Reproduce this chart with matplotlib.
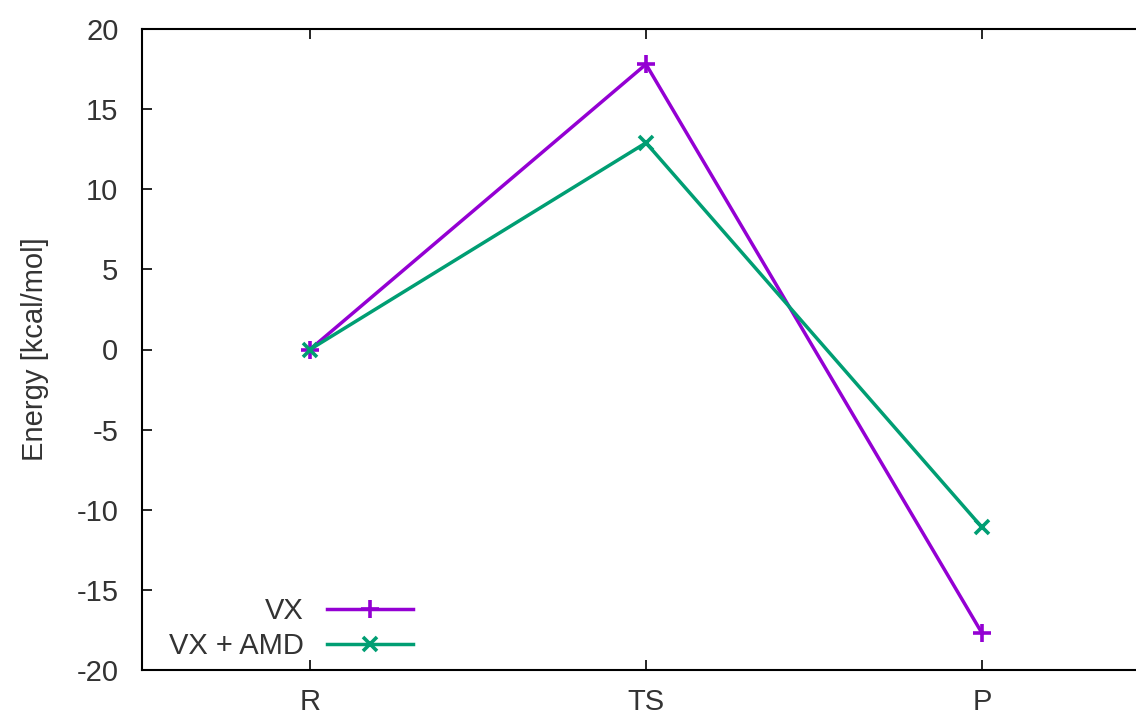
import matplotlib
matplotlib.use("Agg")
import matplotlib.pyplot as plt

# Datos del diagrama de energia
states = ["R", "TS", "P"]
vx = [0.0, 17.8, -17.7]
vx_amd = [0.0, 12.9, -11.1]

yticks = [-20, -15, -10, -5, 0, 5, 10, 15, 20]

plt.rcParams["font.family"] = ["Liberation Sans", "DejaVu Sans"]
plt.rcParams["font.size"] = 21
plt.rcParams["axes.unicode_minus"] = False

fig = plt.figure(figsize=(11.36, 7.16), dpi=100)
# el recuadro de gnuplot se sale por la derecha
ax = fig.add_axes([142 / 1136, 46 / 716, 1008 / 1136, 641 / 716])

x = list(range(len(states)))
ax.plot(x, vx, color="#9400D3", lw=2.5, marker="+", ms=13, mew=2.6, label="VX")
ax.plot(x, vx_amd, color="#009E73", lw=2.5, marker="x", ms=10, mew=2.6, label="VX + AMD")

ax.set_xlim(-0.5, 2.5)
ax.set_ylim(-20, 20)
ax.set_xticks(x)
ax.set_xticklabels(states)
ax.set_yticks(yticks)
ax.tick_params(direction="in", length=7, width=1.2, top=True, right=True, colors="black",
               labelcolor="#333333")
ax.tick_params(axis="y", pad=17)
ax.tick_params(axis="x", pad=13)
for s in ax.spines.values():
    s.set_linewidth(1.5)

ax.set_ylabel("Energy [kcal/mol]", color="#333333", labelpad=20)

ax.legend(loc="lower right", bbox_to_anchor=(413 / 1136, 56 / 716),
          bbox_transform=fig.transFigure, frameon=False, markerfirst=False,
          numpoints=1, handlelength=2.95, handletextpad=0.8, labelspacing=0.25,
          borderpad=0, borderaxespad=0, labelcolor="#333333")

fig.savefig("out.png", dpi=100)
